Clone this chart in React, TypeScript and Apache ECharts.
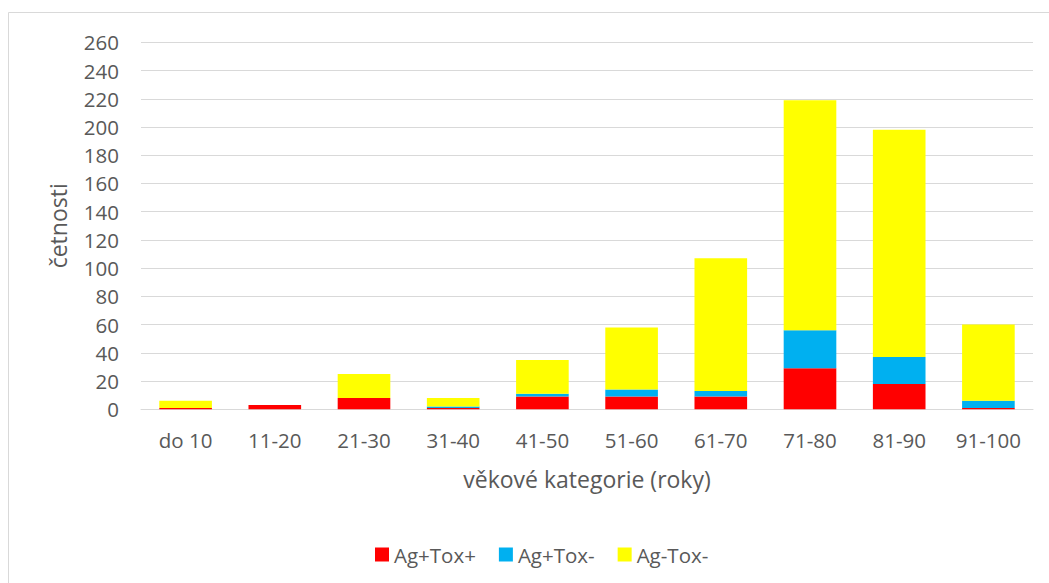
import React, { useEffect, useRef } from "react";
import * as echarts from "echarts";

// Age groups (years) and counts per test outcome
const categories = ["do 10", "11-20", "21-30", "31-40", "41-50", "51-60", "61-70", "71-80", "81-90", "91-100"];
const agPlusToxPlus = [1, 3, 8, 1, 9, 9, 9, 29, 18, 1];
const agPlusToxMinus = [0, 0, 0, 1, 2, 5, 4, 27, 19, 5];
const agMinusToxMinus = [5, 0, 17, 6, 24, 44, 94, 163, 161, 54];

const seriesNames = ["Ag+Tox+", "Ag+Tox-", "Ag-Tox-"];
const seriesColors = ["#FF0000", "#00B0F0", "#FFFF00"];

const FONT = "'Open Sans', sans-serif";
const TEXT = "#595959";
const GRID = "#D9D9D9";

export default function App() {
  const ref = useRef<HTMLDivElement>(null);

  useEffect(() => {
    if (!ref.current) return;
    const chart = echarts.init(ref.current, null, { renderer: "svg" });
    const values = [agPlusToxPlus, agPlusToxMinus, agMinusToxMinus];
    chart.setOption({
      animation: false,
      backgroundColor: "#FFFFFF",
      textStyle: { fontFamily: FONT, color: TEXT },
      graphic: [
        {
          type: "rect",
          shape: { x: 8.5, y: 12.5, width: 1100, height: 620 },
          style: { fill: "none", stroke: GRID, lineWidth: 1 },
          silent: true,
        },
      ],
      grid: { left: 141, right: 16, top: 42.3, bottom: 173.7, containLabel: false },
      legend: {
        left: 370,
        top: 539,
        itemWidth: 14,
        itemHeight: 14,
        itemGap: 23,
        icon: "rect",
        textStyle: { fontFamily: FONT, fontSize: 20.5, color: TEXT },
        data: seriesNames,
      },
      xAxis: {
        type: "category",
        data: categories,
        name: "věkové kategorie (roky)",
        nameLocation: "middle",
        nameGap: 58,
        nameTextStyle: { fontFamily: FONT, fontSize: 23, color: TEXT },
        axisLine: { lineStyle: { color: GRID, width: 1 } },
        axisTick: { show: false },
        axisLabel: { fontFamily: FONT, fontSize: 20.5, color: TEXT, margin: 20 },
      },
      yAxis: {
        type: "value",
        min: 0,
        max: 260,
        interval: 20,
        name: "četnosti",
        nameLocation: "middle",
        nameRotate: 90,
        nameGap: 72,
        nameTextStyle: { fontFamily: FONT, fontSize: 23, color: TEXT },
        axisLine: { show: false },
        axisTick: { show: false },
        axisLabel: { fontFamily: FONT, fontSize: 20.5, color: TEXT, margin: 22 },
        splitLine: { lineStyle: { color: GRID, width: 1 } },
      },
      series: seriesNames.map((name, i) => ({
        name,
        type: "bar",
        stack: "total",
        barCategoryGap: "41%",
        itemStyle: { color: seriesColors[i] },
        data: values[i],
      })),
    });
    return () => chart.dispose();
  }, []);

  return (
    <div
      ref={ref}
      style={{ position: "absolute", left: 0, top: 0, width: 1049, height: 583 }}
    />
  );
}
